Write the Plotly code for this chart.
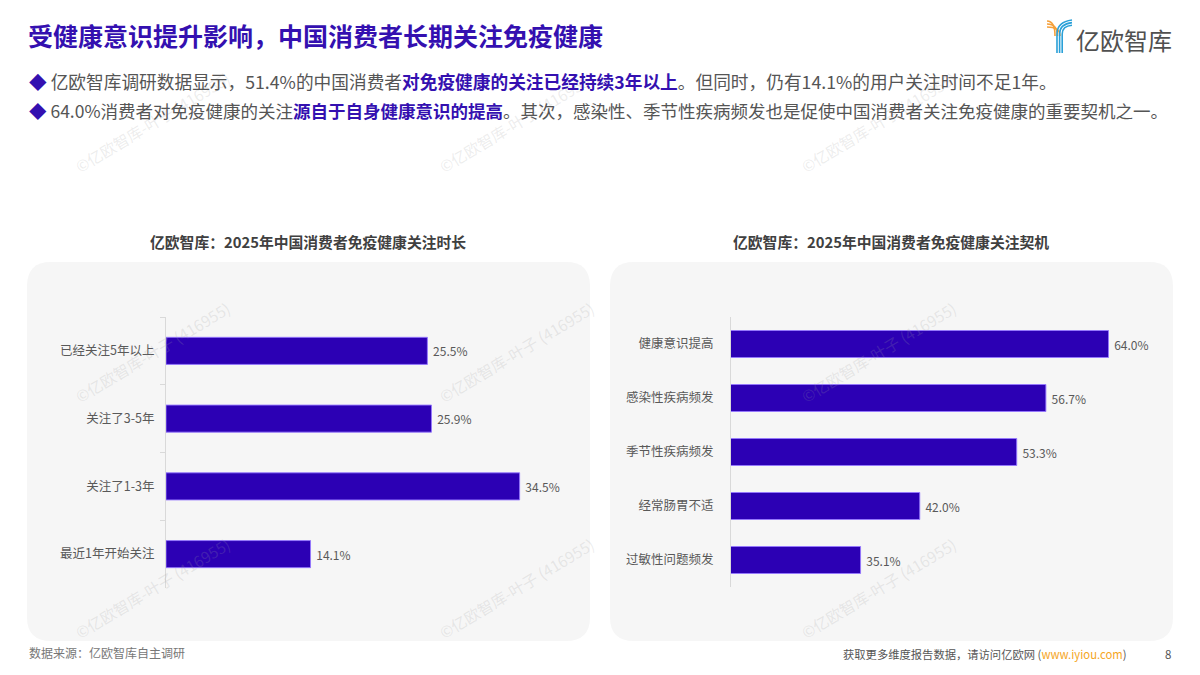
import plotly.graph_objects as go

# ---------------- data ----------------
left_categories = ["已经关注5年以上", "关注了3-5年", "关注了1-3年", "最近1年开始关注"]
left_values = [25.5, 25.9, 34.5, 14.1]

right_categories = ["健康意识提高", "感染性疾病频发", "季节性疾病频发", "经常肠胃不适", "过敏性问题频发"]
right_values = [64.0, 56.7, 53.3, 42.0, 35.1]

title_text = "受健康意识提升影响，中国消费者长期关注免疫健康"
left_title = "亿欧智库：2025年中国消费者免疫健康关注时长"
right_title = "亿欧智库：2025年中国消费者免疫健康关注契机"
source_text = "数据来源：亿欧智库自主调研"
watermark = "©亿欧智库-叶子 (416955)"

W, H = 1200, 675
FONT = "Noto Sans CJK SC"
BAR = "#2c00b4"
BAR_EDGE = "rgba(150,120,255,0.9)"
PURPLE = "#3410b0"
GRAY = "#595959"


def px(x):
    return x / W


def py(y):
    return 1 - y / H


def rounded_rect(x0, y0, x1, y1, r):
    def p(x, y):
        return f"{px(x):.5f},{py(y):.5f}"
    return (f"M {p(x0 + r, y0)} L {p(x1 - r, y0)} Q {p(x1, y0)} {p(x1, y0 + r)} "
            f"L {p(x1, y1 - r)} Q {p(x1, y1)} {p(x1 - r, y1)} "
            f"L {p(x0 + r, y1)} Q {p(x0, y1)} {p(x0, y1 - r)} "
            f"L {p(x0, y0 + r)} Q {p(x0, y0)} {p(x0 + r, y0)} Z")


fig = go.Figure()

fig.add_trace(go.Bar(
    x=left_values, y=left_categories, orientation="h",
    marker=dict(color=BAR, line=dict(color=BAR_EDGE, width=1)),
    width=0.4, text=left_values, texttemplate=" %{x:.1f}%",
    textposition="outside", cliponaxis=False,
    textfont=dict(family=FONT, size=12, color=GRAY),
    xaxis="x", yaxis="y", showlegend=False, hoverinfo="skip",
))

fig.add_trace(go.Bar(
    x=right_values, y=right_categories, orientation="h",
    marker=dict(color=BAR, line=dict(color=BAR_EDGE, width=1)),
    width=0.5, text=right_values, texttemplate=" %{x:.1f}%",
    textposition="outside", cliponaxis=False,
    textfont=dict(family=FONT, size=12, color=GRAY),
    xaxis="x2", yaxis="y2", showlegend=False, hoverinfo="skip",
))

axis_common_x = dict(showgrid=False, zeroline=False, showticklabels=False, showline=False, fixedrange=True)

shapes = [
    dict(type="path", path=rounded_rect(27, 262, 590, 641, 24), xref="paper", yref="paper",
         fillcolor="#f6f6f6", line=dict(width=0), layer="below"),
    dict(type="path", path=rounded_rect(610, 262, 1173, 641, 24), xref="paper", yref="paper",
         fillcolor="#f6f6f6", line=dict(width=0), layer="below"),
]

# logo icon (orange + blue stripes forming a Y)
for k in range(3):
    yo = 21 + 3 * k
    xe = 1055 + 2.5 * k
    path = (f"M {px(1047):.5f},{py(yo):.5f} Q {px(xe):.5f},{py(yo):.5f} {px(xe):.5f},{py(36):.5f}")
    shapes.append(dict(type="path", path=path, xref="paper", yref="paper",
                       line=dict(color="#f5a03a", width=1.6)))
for k in range(3):
    xs = 1057 + 2.6 * k
    path = (f"M {px(xs):.5f},{py(53):.5f} L {px(xs):.5f},{py(34):.5f} "
            f"Q {px(xs):.5f},{py(22 + 2 * k):.5f} {px(1072):.5f},{py(20 + 2.6 * k):.5f}")
    shapes.append(dict(type="path", path=path, xref="paper", yref="paper",
                       line=dict(color="#2aa0d8", width=1.6)))

annotations = []


def ann(text, x, y, size, color=GRAY, xanchor="left", yanchor="middle", **kw):
    annotations.append(dict(text=text, x=px(x), y=py(y), xref="paper", yref="paper",
                            xanchor=xanchor, yanchor=yanchor, showarrow=False,
                            font=dict(family=FONT, size=size, color=color), **kw))


# watermarks
for wx in [152, 516, 878]:
    for wy in [122, 352, 588]:
        ann(watermark, wx, wy, 15.5, color="rgba(160,160,160,0.2)", xanchor="center", textangle=-31)

ann(f"<b>{title_text}</b>", 26, 35, 25, color=PURPLE)
ann("亿欧智库", 1074, 40, 24, color="#505050")

bullet1 = ("<span style='color:#3410b0'>◆</span> 亿欧智库调研数据显示，51.4%的中国消费者"
           "<b><span style='color:#3410b0'>对免疫健康的关注已经持续3年以上</span></b>。"
           "但同时，仍有14.1%的用户关注时间不足1年。")
bullet2 = ("<span style='color:#3410b0'>◆</span> 64.0%消费者对免疫健康的关注"
           "<b><span style='color:#3410b0'>源自于自身健康意识的提高</span></b>。"
           "其次，感染性、季节性疾病频发也是促使中国消费者关注免疫健康的重要契机之一。")
ann(bullet1, 27, 81, 17.7, color="#555555")
ann(bullet2, 27, 111, 17.5, color="#555555")

ann(f"<b>{left_title}</b>", 308, 242, 14.8, color="#404040", xanchor="center")
ann(f"<b>{right_title}</b>", 891, 242, 14.8, color="#404040", xanchor="center")

ann(source_text, 27, 652, 12, color="#777777")
ann("获取更多维度报告数据，请访问亿欧网 (<span style='color:#f5a623'>www.iyiou.com</span>)",
    1129, 654, 11.3, color="#555555", xanchor="right")
ann("8", 1173, 654, 11.5, color="#555555", xanchor="right")

fig.update_layout(
    width=W, height=H,
    margin=dict(l=0, r=0, t=0, b=0),
    paper_bgcolor="white", plot_bgcolor="rgba(0,0,0,0)",
    font=dict(family=FONT, color=GRAY),
    bargap=0.5,
    xaxis=dict(domain=[px(166), px(576)], range=[0, 40], anchor="y", **axis_common_x),
    yaxis=dict(domain=[py(588), py(317)], anchor="x", type="category",
               categoryorder="array", categoryarray=left_categories,
               range=[3.5, -0.5], showgrid=False, zeroline=False,
               showline=True, linecolor="#d9d9d9", linewidth=1,
               ticks="outside", tickson="boundaries", ticklen=5, tickcolor="#d9d9d9",
               ticklabelstandoff=8,
               tickfont=dict(family=FONT, size=12.5, color=GRAY), fixedrange=True),
    xaxis2=dict(domain=[px(731), px(1160)], range=[20, 70], anchor="y2", **axis_common_x),
    yaxis2=dict(domain=[py(587), py(317)], anchor="x2", type="category",
                categoryorder="array", categoryarray=right_categories,
                range=[4.5, -0.5], showgrid=False, zeroline=False,
                showline=True, linecolor="#d9d9d9", linewidth=1,
                ticks="", ticklabelstandoff=14,
                tickfont=dict(family=FONT, size=12.5, color=GRAY), fixedrange=True),
    shapes=shapes,
    annotations=annotations,
)

fig.write_html("out.html", config={"displayModeBar": False},
               post_script="document.body.style.margin='0';document.body.style.overflow='hidden';")
